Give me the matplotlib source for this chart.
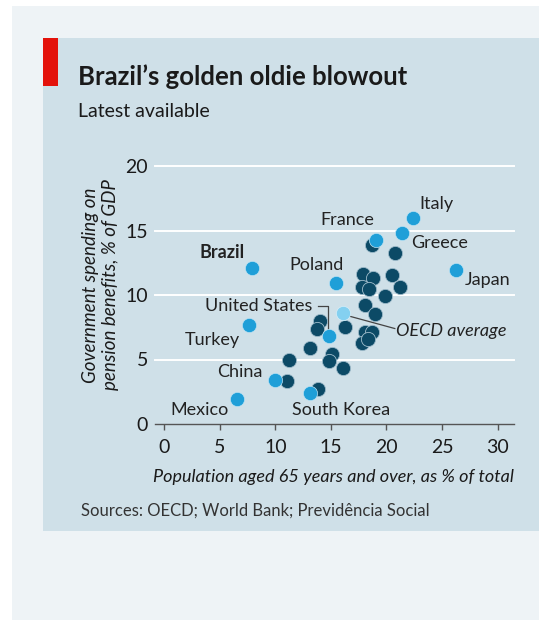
import matplotlib
matplotlib.use("Agg")
import matplotlib.pyplot as plt
from matplotlib.patches import Rectangle

# ------------------------------------------------------------------ #
#  Datos                                                             #
# ------------------------------------------------------------------ #
paises = ["Brazil", "Poland", "France", "Italy", "Greece", "Japan",
          "United States", "Turkey", "China", "Mexico", "South Korea"]
pob_65 = [7.9, 15.5, 19.1, 22.4, 21.4, 26.3, 14.8, 7.6, 10.0, 6.5, 13.1]
gasto_pens = [12.1, 10.9, 14.3, 16.0, 14.8, 11.9, 6.8, 7.7, 3.4, 1.9, 2.4]

oecd_x = [16.1]
oecd_y = [8.6]

otros_x = [11.2, 11.0, 13.1, 14.0, 13.7, 15.1, 14.85, 16.1, 16.25, 13.8,
           18.7, 20.8, 17.9, 18.8, 20.5, 17.8, 18.45, 21.2, 19.9, 18.05,
           18.95, 18.05, 18.7, 17.8, 18.3]
otros_y = [5.0, 3.35, 5.9, 7.95, 7.35, 5.4, 4.9, 4.35, 7.5, 2.75,
           13.9, 13.25, 11.6, 11.3, 11.55, 10.6, 10.5, 10.6, 9.95, 9.2,
           8.55, 7.1, 7.1, 6.25, 6.6]

xticks = [0, 5, 10, 15, 20, 25, 30]
yticks = [0, 5, 10, 15, 20]

# colores
FONDO = "#cfe0e8"
GRIS = "#eef3f6"
ROJO = "#e3120b"
OSCURO = "#0c4a66"
CLARO = "#1f9fd8"
OECD_C = "#84d0f0"
TEXTO = "#1a1a1a"
FUENTE = "Lato"

W, H = 539, 620


def fx(px):
    return px / W


def fy(py):
    return 1 - py / H


fig = plt.figure(figsize=(W / 100, H / 100), dpi=100)
fig.patch.set_facecolor("white")
fig.patches.append(Rectangle((fx(12), 0), 1, fy(6), transform=fig.transFigure,
                             facecolor=GRIS, edgecolor="none", zorder=-3))
fig.patches.append(Rectangle((fx(43), fy(531)), 1, fy(38) - fy(531),
                             transform=fig.transFigure, facecolor=FONDO,
                             edgecolor="none", zorder=-2))
fig.patches.append(Rectangle((fx(43), fy(86)), fx(58) - fx(43), fy(38) - fy(86),
                             transform=fig.transFigure, facecolor=ROJO,
                             edgecolor="none", zorder=-1))

fig.text(fx(78), fy(85), "Brazil\u2019s golden oldie blowout", fontsize=18.5,
         fontweight="bold", family=FUENTE, color=TEXTO, va="baseline")
fig.text(fx(78), fy(117), "Latest available", fontsize=14,
         family=FUENTE, color=TEXTO, va="baseline")
fig.text(fx(81), fy(516), "Sources: OECD; World Bank; Previd\u00eancia Social",
         fontsize=12, family=FUENTE, color="#333333", va="baseline")

ax = fig.add_axes([fx(155), fy(424), fx(514) - fx(155), fy(166) - fy(424)])
ax.set_facecolor("none")
ax.set_xlim(-0.84, 31.48)
ax.set_ylim(0, 20)

for y in yticks[1:]:
    ax.axhline(y, color="white", lw=1.4, zorder=0, clip_on=False)

for s in ["top", "right", "left"]:
    ax.spines[s].set_visible(False)
ax.spines["bottom"].set_color("#555555")
ax.spines["bottom"].set_linewidth(1.0)
ax.set_xticks(xticks)
ax.set_yticks(yticks)
ax.tick_params(axis="x", direction="out", length=4, width=1, color="#555555",
               labelsize=14, labelcolor=TEXTO, pad=7)
ax.tick_params(axis="y", length=0, labelsize=14, labelcolor=TEXTO, pad=5)
for lab in ax.get_xticklabels() + ax.get_yticklabels():
    lab.set_family(FUENTE)

ax.set_xlabel("Population aged 65 years and over, as % of total",
              fontsize=13, style="italic", family=FUENTE, color=TEXTO,
              loc="right", labelpad=9)
fig.text(fx(100.5), fy(285), "Government spending on\npension benefits, % of GDP",
         rotation=90, fontsize=13.5, style="italic", family=FUENTE, color=TEXTO,
         ha="center", va="center", multialignment="center", linespacing=1.2)

# puntos
ax.scatter(otros_x, otros_y, s=105, color=OSCURO, edgecolors="#9fbccb",
           linewidths=0.6, zorder=3, clip_on=False)
ax.scatter(pob_65, gasto_pens, s=105, color=CLARO, edgecolors="#bfe3f3",
           linewidths=0.5, zorder=4, clip_on=False)
ax.scatter(oecd_x, oecd_y, s=105, color=OECD_C, edgecolors="#d8eef8",
           linewidths=0.5, zorder=4, clip_on=False)

# etiquetas: (x, y, ha)
etiquetas = {
    "Brazil": (7.25, 13.3, "right"),
    "Poland": (16.1, 12.3, "right"),
    "France": (18.9, 15.8, "right"),
    "Italy": (23.0, 17.05, "left"),
    "Greece": (22.25, 14.0, "left"),
    "Japan": (27.05, 11.15, "left"),
    "United States": (13.3, 9.15, "right"),
    "Turkey": (6.8, 6.55, "right"),
    "China": (8.85, 4.0, "right"),
    "Mexico": (5.75, 1.1, "right"),
    "South Korea": (15.95, 1.1, "center"),
}
for nombre in paises:
    x, y, ha = etiquetas[nombre]
    ax.text(x, y, nombre, fontsize=13, family=FUENTE, color="#222222",
            ha=ha, va="center",
            fontweight="bold" if nombre == "Brazil" else "normal", zorder=5)

# conectores
ax.plot([13.85, 14.77, 14.77], [9.15, 9.15, 7.35], color="#444444", lw=0.9,
        zorder=2)
ax.plot([16.7, 20.75], [8.35, 7.4], color="#444444", lw=0.9, zorder=2)
ax.text(20.85, 7.23, "OECD average", fontsize=13, style="italic",
        family=FUENTE, color="#222222", ha="left", va="center", zorder=5)

fig.savefig("out.png", dpi=100)
